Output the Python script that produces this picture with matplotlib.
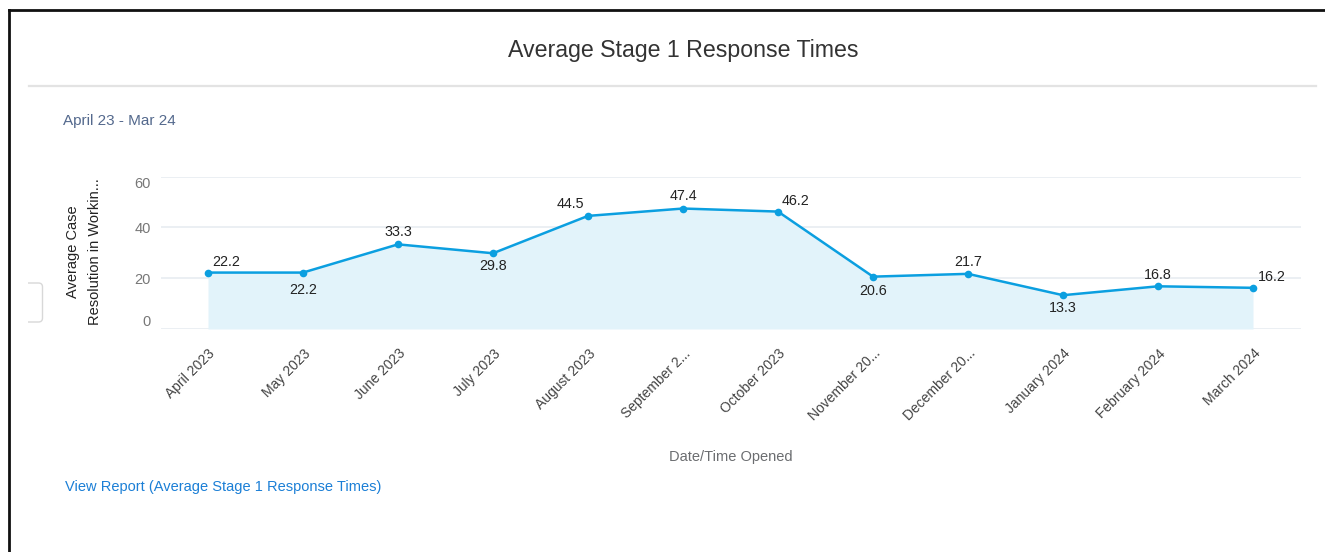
import matplotlib
matplotlib.use("Agg")
import matplotlib.pyplot as plt
from matplotlib.lines import Line2D
from matplotlib.patches import FancyBboxPatch
from matplotlib.transforms import Bbox, ScaledTranslation

plt.rcParams['font.family'] = ['Liberation Sans', 'DejaVu Sans']

# ---- data ----
months = ["April 2023", "May 2023", "June 2023", "July 2023", "August 2023",
          "September 2...", "October 2023", "November 20...", "December 20...",
          "January 2024", "February 2024", "March 2024"]
avg_response = [22.2, 22.2, 33.3, 29.8, 44.5, 47.4, 46.2, 20.6, 21.7, 13.3, 16.8, 16.2]
y_ticks = [0, 20, 40, 60]

title = "Average Stage 1 Response Times"
subtitle = "April 23 - Mar 24"
x_label = "Date/Time Opened"
y_label = "Average Case\nResolution in Workin..."
link_text = "View Report (Average Stage 1 Response Times)"

# label placement (pixel offsets from each point)
label_offsets = [(18, 11), (0, -17), (0, 12), (0, -13), (-18, 12), (0, 13),
                 (18, 11), (0, -14), (0, 12), (0, -13), (0, 11), (19, 11)]

W, H = 1325, 552
fig = plt.figure(figsize=(W / 100, H / 100), dpi=100)
fig.patch.set_facecolor('white')

def fx(px):
    return px / W

def fy(py):
    return 1 - py / H

# axes
ax = fig.add_axes([fx(160.5), fy(329), (1300.5 - 160.5) / W, (329 - 176.5) / H])
x = list(range(len(months)))
line_color = '#0b9fe0'
ax.fill_between(x, avg_response, 0, color='#e2f3fa', lw=0, zorder=1)
ax.plot(x, avg_response, color=line_color, lw=1.8, marker='o', ms=5.5,
        markeredgewidth=0, zorder=3)
ax.set_xlim(-0.5, len(months) - 0.5)
ax.set_ylim(0, 60)
ax.set_yticks(y_ticks)
ax.set_yticklabels([str(v) for v in y_ticks])
for sp in ax.spines.values():
    sp.set_visible(False)
ax.yaxis.grid(True, color='#e6ebf0', lw=1.1, zorder=0)
ax.set_axisbelow(True)
ax.tick_params(axis='y', length=0, pad=7, labelsize=10.5, labelcolor='#777777')
ax.tick_params(axis='x', length=0, pad=16, labelsize=10, labelcolor='#444444')
ax.set_xticks(x)
ax.set_xticklabels(months, rotation=45, ha='right', rotation_mode='anchor', va='center')
shift = ScaledTranslation(5 / 100, 0, fig.dpi_scale_trans)
for lbl in ax.get_xticklabels():
    lbl.set_transform(lbl.get_transform() + shift)
for lbl in ax.get_yticklabels():
    t = lbl.get_text()
    if t == '60':
        lbl.set_va('top')
    elif t == '0':
        lbl.set_va('bottom')

for xi, v, (dx, dy) in zip(x, avg_response, label_offsets):
    ax.annotate(f"{v}", (xi, v), xytext=(dx, dy), textcoords='offset pixels',
                ha='center', va='center', fontsize=10.3, color='#222222', zorder=4)

# texts
fig.text(fx(683), fy(50), title, ha='center', va='center', fontsize=16.7, color='#333333')
fig.text(fx(63), fy(121), subtitle, ha='left', va='center', fontsize=11, color='#54698d')
fig.text(fx(731), fy(457), x_label, ha='center', va='center', fontsize=10.5, color='#6b6d70')
fig.text(fx(84), fy(252), y_label, ha='center', va='center', rotation=90,
         fontsize=10.5, color='#222222', linespacing=1.75)
fig.text(fx(65), fy(487), link_text, ha='left', va='center', fontsize=10.5, color='#1b7fd6')

# separator line
fig.add_artist(Line2D([fx(29), fx(1316)], [fy(86), fy(86)], transform=fig.transFigure,
                      color='#e3e3e3', lw=1.6))
# black frame (left & top)
fig.add_artist(Line2D([fx(9), fx(9)], [0, fy(10)], transform=fig.transFigure,
                      color='#111111', lw=2))
fig.add_artist(Line2D([fx(9), 1], [fy(10), fy(10)], transform=fig.transFigure,
                      color='#111111', lw=2))
# small partial box at left (left side hidden)
box = FancyBboxPatch((10, H - 322), 32.5, 39, boxstyle="round,pad=0,rounding_size=4",
                     transform=None, facecolor='white', edgecolor='#d8d8d8', lw=1)
fig.add_artist(box)
box.set_clip_box(Bbox([[28, 0], [W, H]]))

fig.savefig('out.png', dpi=100, facecolor='white')
